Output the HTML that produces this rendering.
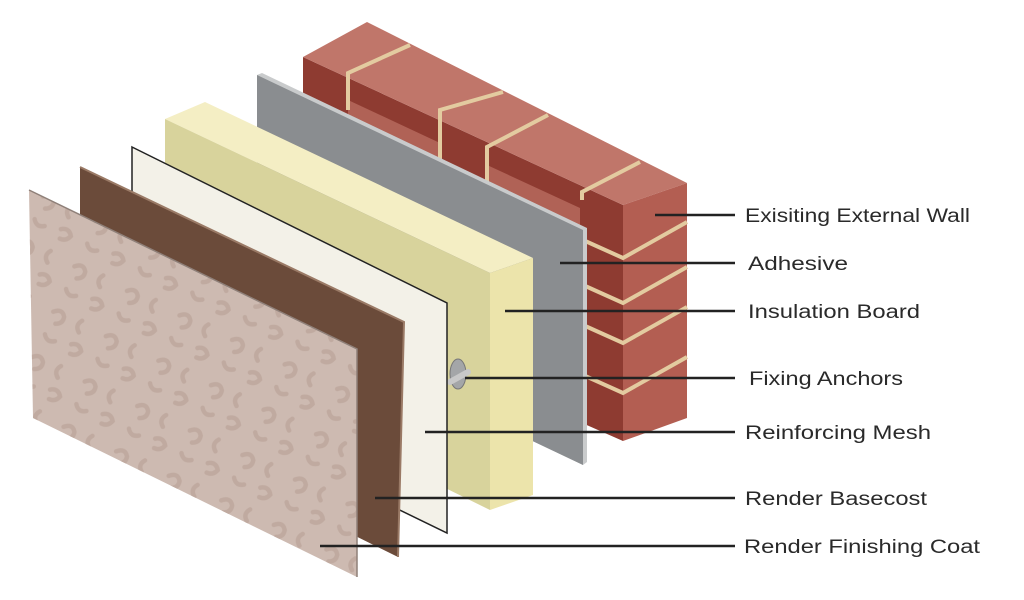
<!DOCTYPE html>
<html><head><meta charset="utf-8"><style>
html,body{margin:0;padding:0;background:#fff;}
svg{display:block;}
text{font-family:"Liberation Sans",sans-serif;font-size:19px;fill:#2a2a2a;}
</style></head><body>
<svg width="1024" height="600" viewBox="0 0 1024 600" xmlns="http://www.w3.org/2000/svg">
<defs>
<pattern id="sq" x="0" y="0" width="58" height="50" patternUnits="userSpaceOnUse" patternTransform="rotate(25)">
<g fill="none" stroke="#c0aaa0" stroke-width="4.5" stroke-linecap="round">
<path d="M6 10 q7 -7 12 0 q2 7 -5 10"/>
<path d="M36 6 q-5 7 2 12"/>
<path d="M36 32 q7 -5 12 2 q-2 7 -9 7"/>
<path d="M8 34 q5 7 12 2"/>
</g>
</pattern>
</defs>

<!-- Brick wall -->
<polygon points="303,57 623,205 623,441 303,300" fill="#8e3b31"/>
<polygon points="348,100 440,143 440,300 348,260" fill="#b06256"/>
<polygon points="487,165 580,208 580,420 487,380" fill="#b06256"/>
<polygon points="303,57 367,22 687,183 623,205" fill="#c0766a"/>
<polygon points="623,205 687,183 687,418 623,441" fill="#b35e52"/>
<g stroke="#e3cba0" stroke-width="4" fill="none">
<path d="M348,110 L348,73 L410,45"/>
<path d="M440,160 L440,110 L503,92"/>
<path d="M487,183 L487,147 L548,115"/>
<path d="M582,200 L582,192 L640,162"/>
<path d="M583,240 L623,258 L687,222"/>
<path d="M583,285 L623,303 L687,267"/>
<path d="M583,325 L623,343 L687,307"/>
<path d="M583,375 L623,393 L687,357"/>
</g>

<!-- Adhesive gray -->
<polygon points="257,75 262,73 587,228 587,462 583,465 257,310" fill="#c9cbcc"/>
<polygon points="257,75 583,230 583,465 257,310" fill="#8a8d90"/>

<!-- Insulation -->
<polygon points="165,119 205,102 533,258 490,273" fill="#f4eec4"/>
<polygon points="490,273 533,258 533,495 490,510" fill="#ece4ab"/>
<polygon points="165,119 490,273 490,510 165,350" fill="#d8d39c"/>

<!-- Anchor -->
<ellipse cx="458" cy="374" rx="8" ry="15" fill="#a4a6a8" stroke="#777" stroke-width="1"/>
<path d="M450,382 L468,372" stroke="#c8c8c8" stroke-width="6" stroke-linecap="round"/>

<!-- Mesh -->
<polygon points="132,147 447,303 447,533 132,380" fill="#f3f1e8" stroke="#222" stroke-width="1.5"/>

<!-- Brown basecoat -->
<polygon points="80,167 404,322 398,557 80,400" fill="#6b4b3a"/>
<path d="M80,167 L404,322 L398,557" fill="none" stroke="#9a7a66" stroke-width="2"/>

<!-- Finishing coat -->
<polygon points="29,190 357,349 357,577 33,418" fill="#cdbab1"/>
<polygon points="29,190 357,349 357,577 33,418" fill="url(#sq)"/>
<path d="M29,190 L357,349 L357,577" fill="none" stroke="#8f8079" stroke-width="1.5"/>

<!-- Leader lines -->
<g stroke="#222" stroke-width="2.5">
<line x1="655" y1="215" x2="735" y2="215"/>
<line x1="560" y1="263" x2="735" y2="263"/>
<line x1="505" y1="311" x2="735" y2="311"/>
<line x1="465" y1="378" x2="735" y2="378"/>
<line x1="425" y1="432" x2="735" y2="432"/>
<line x1="375" y1="498" x2="735" y2="498"/>
<line x1="320" y1="546" x2="735" y2="546"/>
</g>

<text x="745" y="222" textLength="225" lengthAdjust="spacingAndGlyphs">Exisiting External Wall</text>
<text x="748" y="270" textLength="100" lengthAdjust="spacingAndGlyphs">Adhesive</text>
<text x="748" y="318" textLength="172" lengthAdjust="spacingAndGlyphs">Insulation Board</text>
<text x="749" y="385" textLength="154" lengthAdjust="spacingAndGlyphs">Fixing Anchors</text>
<text x="745" y="439" textLength="186" lengthAdjust="spacingAndGlyphs">Reinforcing Mesh</text>
<text x="745" y="505" textLength="182" lengthAdjust="spacingAndGlyphs">Render Basecost</text>
<text x="744" y="553" textLength="236" lengthAdjust="spacingAndGlyphs">Render Finishing Coat</text>
</svg>
</body></html>
